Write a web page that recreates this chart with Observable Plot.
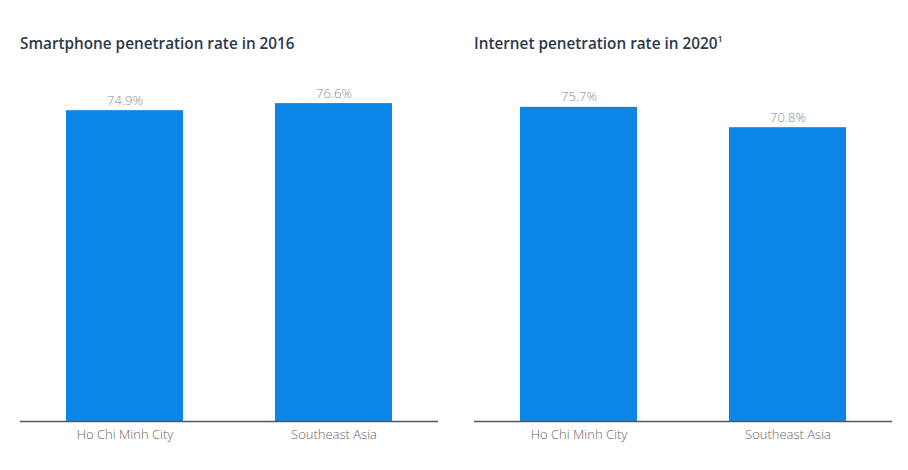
<!DOCTYPE html>
<html><head><meta charset="utf-8">
<script src="https://cdn.jsdelivr.net/npm/d3@7"></script>
<script src="https://cdn.jsdelivr.net/npm/@observablehq/plot@0.6"></script>
<style>
body{margin:0;background:#fff;font-family:"Open Sans",sans-serif;}
#wrap{position:relative;width:908px;height:470px;overflow:hidden;}
.panel{position:absolute;top:0;width:454px;height:470px;}
.title{position:absolute;top:33px;font-size:15.3px;font-weight:600;color:#2b3a4a;white-space:nowrap;}
.chart{position:absolute;top:70px;left:0;}
sup{font-size:9px;vertical-align:top;position:relative;top:-1px;}
</style></head>
<body><div id="wrap"></div>
<script>
const categories = ["Ho Chi Minh City", "Southeast Asia"];
const smartphone2016 = [74.9, 76.6];
const internet2020 = [75.7, 70.8];
const titles = ["Smartphone penetration rate in 2016", "Internet penetration rate in 2020"];

const panels = [
  {title: titles[0], sup: "", values: smartphone2016, left: 0, titleLeft: 20, ml: 20, mr: 16},
  {title: titles[1], sup: "1", values: internet2020, left: 454, titleLeft: 20, ml: 20, mr: 16}
];
const wrap = document.getElementById("wrap");
for (const p of panels) {
  const data = categories.map((c, i) => ({category: c, value: p.values[i]}));
  const div = document.createElement("div");
  div.className = "panel";
  div.style.left = p.left + "px";
  const t = document.createElement("div");
  t.className = "title";
  t.style.left = p.titleLeft + "px";
  t.textContent = p.title;
  if (p.sup) { const s = document.createElement("sup"); s.textContent = p.sup; t.appendChild(s); }
  div.appendChild(t);
  const chart = Plot.plot({
    width: 454, height: 400,
    marginLeft: p.ml, marginRight: p.mr, marginTop: 19, marginBottom: 49,
    style: {fontFamily: "Open Sans, sans-serif", fontSize: "12px", background: "transparent", overflow: "visible"},
    x: {domain: categories, paddingInner: 0.44, paddingOuter: 0.22, label: null},
    y: {domain: [0, 80], axis: null},
    marks: [
      Plot.barY(data, {x: "category", y: "value", fill: "#0b85e6"}),
      Plot.ruleY([0], {stroke: "#4d5a66", strokeWidth: 1.5}),
      Plot.text(data, {x: "category", y: "value", text: d => d.value.toFixed(1) + "%", lineAnchor: "bottom", dy: -6, fill: "#8a8a8a", fontSize: 13, fontWeight: 300}),
      Plot.axisX({tickSize: 0, tickPadding: 8, fill: "#666", fontSize: 13, fontWeight: 300, label: null})
    ]
  });
  chart.classList.add("chart");
  div.appendChild(chart);
  wrap.appendChild(div);
}
</script></body></html>
